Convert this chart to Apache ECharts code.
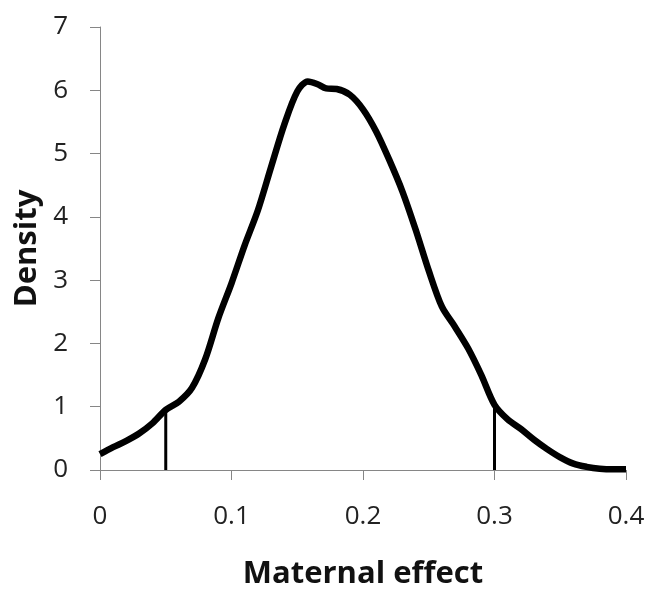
<!DOCTYPE html>
<html>
<head>
<meta charset="utf-8">
<script src="https://cdn.jsdelivr.net/npm/echarts@6/dist/echarts.min.js"></script>
<style>
  html, body { margin: 0; padding: 0; background: #fff; }
  #chart { width: 649px; height: 590px; }
</style>
</head>
<body>
<div id="chart"></div>
<script>
// density curve of the maternal effect
var effectX = [0, 0.01, 0.02, 0.03, 0.04, 0.05, 0.06, 0.07, 0.08, 0.09,
               0.10, 0.11, 0.12, 0.13, 0.14, 0.15, 0.158, 0.165, 0.172, 0.18,
               0.19, 0.20, 0.21, 0.22, 0.23, 0.24, 0.25, 0.26, 0.27, 0.28,
               0.29, 0.30, 0.31, 0.32, 0.33, 0.34, 0.35, 0.36, 0.37, 0.38,
               0.39, 0.40];
var densityY = [0.25, 0.36, 0.46, 0.58, 0.74, 0.95, 1.08, 1.30, 1.75, 2.40,
                2.95, 3.55, 4.10, 4.78, 5.45, 5.98, 6.14, 6.10, 6.03, 6.02,
                5.93, 5.70, 5.35, 4.90, 4.40, 3.80, 3.15, 2.58, 2.26, 1.92,
                1.50, 1.03, 0.80, 0.65, 0.48, 0.33, 0.20, 0.10, 0.05, 0.02,
                0.01, 0.01];
// interval bounds, drawn as drop lines
var boundX = [0.05, 0.30];
var boundY = [0.95, 1.03];

var xTicks = [0, 0.4, 0.1];
var yTicks = [0, 7, 1];

var curve = effectX.map(function (x, i) { return [x, densityY[i]]; });

var chart = echarts.init(document.getElementById('chart'));
var axisColor = '#868686';
var labelFont = { color: '#222', fontSize: 26, fontFamily: 'Open Sans' };
var nameFont = { color: '#111', fontSize: 31, fontWeight: 'bold', fontFamily: 'Open Sans' };

var series = [{
    type: 'line',
    data: curve,
    smooth: 0.3,
    showSymbol: false,
    lineStyle: { color: '#000', width: 6.5 },
    z: 3
}];
boundX.forEach(function (x, i) {
    series.push({
        type: 'line',
        data: [[x, 0], [x, boundY[i]]],
        showSymbol: false,
        lineStyle: { color: '#000', width: 3 },
        z: 2
    });
});

chart.setOption({
    animation: false,
    grid: { left: 100, right: 23, top: 27, bottom: 120, outerBoundsMode: 'none', containLabel: false },
    xAxis: {
        type: 'value',
        min: xTicks[0], max: xTicks[1], interval: xTicks[2],
        name: 'Maternal effect',
        nameLocation: 'middle',
        nameGap: 89,
        nameTextStyle: nameFont,
        axisLine: { show: true, lineStyle: { color: axisColor, width: 1 } },
        axisTick: { show: true, length: 10, lineStyle: { color: axisColor } },
        axisLabel: Object.assign({ margin: 34 }, labelFont),
        splitLine: { show: false }
    },
    yAxis: {
        type: 'value',
        min: yTicks[0], max: yTicks[1], interval: yTicks[2],
        name: 'Density',
        nameLocation: 'middle',
        nameRotate: 90,
        nameGap: 56,
        nameTextStyle: nameFont,
        axisLine: { show: true, lineStyle: { color: axisColor, width: 1 } },
        axisTick: { show: true, length: 10, lineStyle: { color: axisColor } },
        axisLabel: Object.assign({ margin: 32 }, labelFont),
        splitLine: { show: false }
    },
    series: series
});
</script>
</body>
</html>
